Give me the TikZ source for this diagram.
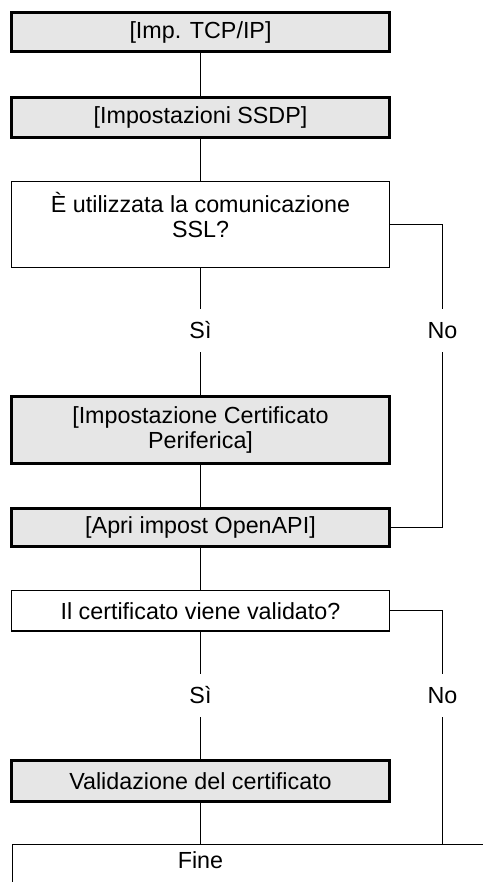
\documentclass[tikz,border=0pt]{standalone}
\usepackage{fontspec}
\setmainfont{Liberation Sans}
\usetikzlibrary{positioning}
\definecolor{boxfill}{HTML}{E6E6E6}

\begin{document}
\begin{tikzpicture}[x=1pt,y=1pt,font=\fontsize{23.3}{25.5}\selectfont,
  every node/.style={inner sep=0pt},
  setting/.style={draw,line width=3pt,fill=boxfill,minimum width=378,align=center},
  question/.style={draw,line width=1.3pt,minimum width=378},
  branch/.style={minimum height=43},
  link/.style={line width=1.3pt}]
\useasboundingbox (0,0) rectangle (482,-882);
% settings and questions
\node[setting,minimum height=39.5] (tcpip) at (200.5,-32.2) {[Imp. TCP/IP]};
\node[setting,minimum height=40.5] (ssdp) at (200.5,-117.7) {[Impostazioni SSDP]};
\node[question,minimum height=86] (sslq) at (200.5,-224.2) {};
\node[align=center] (ssltext) at (200.5,-215) {È utilizzata la comunicazione\\SSL?};
\node[branch] (yes1) at (200.5,-330.5) {Sì};
\node[branch] (no1) at (442.5,-330.5) {No};
\node[setting,minimum height=66.8] (devcert) at (200.5,-430) {[Impostazione Certificato\\Periferica]};
\node[setting,minimum height=37.5] (openapi) at (200.5,-527.5) {[Apri impost OpenAPI]};
\node[question,minimum height=40.3] (certq) at (200.5,-610.8) {Il certificato viene validato?};
\node[branch] (yes2) at (200.5,-695.5) {Sì};
\node[branch] (no2) at (442.5,-695.5) {No};
\node[setting,minimum height=41.2] (certok) at (200.5,-781) {Validazione del certificato};
\node[draw,line width=1.3pt,minimum width=600,minimum height=80,anchor=north west] (fineframe) at (11.7,-844) {};
\node (fine) at (200.5,-859.7) {Fine};
% connectors
\draw[link] (tcpip) -- (ssdp);
\draw[link] (ssdp) -- (sslq);
\draw[link] (sslq) -- (yes1);
\draw[link] (yes1) -- (devcert);
\draw[link] (sslq.east) -| (no1.north);
\draw[link] (no1.south) |- (openapi.east);
\draw[link] (devcert) -- (openapi);
\draw[link] (openapi) -- (certq);
\draw[link] (certq) -- (yes2);
\draw[link] (yes2) -- (certok);
\draw[link] (certq.east) -| (no2.north);
\draw[link] (no2.south) -- (no2.south |- fineframe.north);
\draw[link] (certok) -- (certok.south |- fineframe.north);
\end{tikzpicture}
\end{document}
